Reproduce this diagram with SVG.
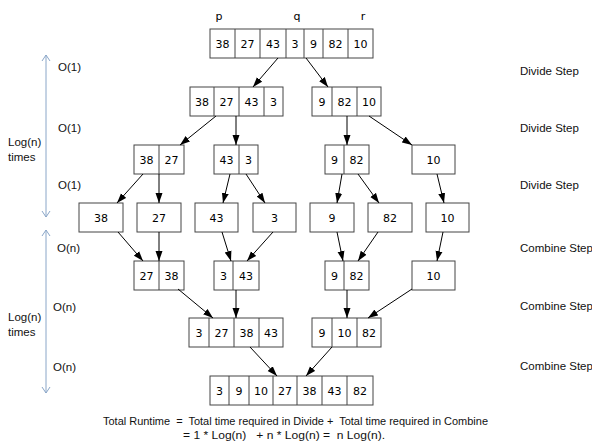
<svg xmlns="http://www.w3.org/2000/svg" width="592" height="447" viewBox="0 0 592 447">
<style>
.c{fill:#fff;stroke:#444;stroke-width:1}
.v{font-family:"DejaVu Sans",sans-serif;font-size:11px;fill:#000;text-anchor:middle}
.s{font-family:"Liberation Sans",Arial,sans-serif;font-size:11.5px;fill:#111;white-space:pre}
.e{stroke:#000;stroke-width:1;fill:none;marker-end:url(#ah)}
.b{stroke:#8aa6c8;stroke-width:1;fill:none}
</style>
<defs>
<marker id="ah" markerUnits="userSpaceOnUse" markerWidth="10" markerHeight="8" refX="10" refY="3.5" orient="auto" viewBox="0 0 10 7">
<path d="M0,0 L10,3.5 L0,7 z" fill="#000"/>
</marker>
</defs>
<rect width="592" height="447" fill="#fff"/>

<g id="labels-pqr">
<text class="v" x="219" y="20" font-size="10">p</text>
<text class="v" x="297" y="20" font-size="10">q</text>
<text class="v" x="363" y="20" font-size="10">r</text>
</g>

<g id="n1">
<rect class="c" x="210" y="29" width="163" height="29"/>
<path class="c" d="M235,29V58M260,29V58M286,29V58M304,29V58M323,29V58M348,29V58"/>
<text class="v" x="222.5" y="47.5">38</text><text class="v" x="247.5" y="47.5">27</text><text class="v" x="273" y="47.5">43</text><text class="v" x="295" y="47.5">3</text><text class="v" x="313.5" y="47.5">9</text><text class="v" x="335.5" y="47.5">82</text><text class="v" x="360.5" y="47.5">10</text>
</g>

<g id="n2a">
<rect class="c" x="190" y="87" width="93" height="29"/>
<path class="c" d="M214,87V116M239,87V116M264,87V116"/>
<text class="v" x="202" y="105.5">38</text><text class="v" x="226.5" y="105.5">27</text><text class="v" x="251.5" y="105.5">43</text><text class="v" x="273.5" y="105.5">3</text>
</g>
<g id="n2b">
<rect class="c" x="312" y="87" width="69" height="29"/>
<path class="c" d="M332,87V116M357,87V116"/>
<text class="v" x="322" y="105.5">9</text><text class="v" x="344.5" y="105.5">82</text><text class="v" x="369" y="105.5">10</text>
</g>

<g id="n3a">
<rect class="c" x="134" y="145" width="50" height="29"/>
<path class="c" d="M159,145V174"/>
<text class="v" x="146.5" y="163.5">38</text><text class="v" x="171.5" y="163.5">27</text>
</g>
<g id="n3b">
<rect class="c" x="214" y="145" width="44" height="29"/>
<path class="c" d="M239,145V174"/>
<text class="v" x="226.5" y="163.5">43</text><text class="v" x="248.5" y="163.5">3</text>
</g>
<g id="n3c">
<rect class="c" x="325" y="145" width="44" height="29"/>
<path class="c" d="M344,145V174"/>
<text class="v" x="334.5" y="163.5">9</text><text class="v" x="356.5" y="163.5">82</text>
</g>
<g id="n3d">
<rect class="c" x="412" y="145" width="43" height="29"/>
<text class="v" x="433.5" y="163.5">10</text>
</g>

<g id="n4a"><rect class="c" x="79" y="203" width="44" height="29"/><text class="v" x="101" y="221.5">38</text></g>
<g id="n4b"><rect class="c" x="137" y="203" width="44" height="29"/><text class="v" x="159" y="221.5">27</text></g>
<g id="n4c"><rect class="c" x="195" y="203" width="43" height="29"/><text class="v" x="216.5" y="221.5">43</text></g>
<g id="n4d"><rect class="c" x="253" y="203" width="43" height="29"/><text class="v" x="274.5" y="221.5">3</text></g>
<g id="n4e"><rect class="c" x="310" y="203" width="44" height="29"/><text class="v" x="332" y="221.5">9</text></g>
<g id="n4f"><rect class="c" x="368" y="203" width="44" height="29"/><text class="v" x="390" y="221.5">82</text></g>
<g id="n4g"><rect class="c" x="426" y="203" width="43" height="29"/><text class="v" x="447.5" y="221.5">10</text></g>

<g id="n5a">
<rect class="c" x="134" y="261" width="50" height="29"/>
<path class="c" d="M159,261V290"/>
<text class="v" x="146.5" y="279.5">27</text><text class="v" x="171.5" y="279.5">38</text>
</g>
<g id="n5b">
<rect class="c" x="214" y="261" width="45" height="29"/>
<path class="c" d="M233,261V290"/>
<text class="v" x="223.5" y="279.5">3</text><text class="v" x="246" y="279.5">43</text>
</g>
<g id="n5c">
<rect class="c" x="325" y="261" width="44" height="29"/>
<path class="c" d="M344,261V290"/>
<text class="v" x="334.5" y="279.5">9</text><text class="v" x="356.5" y="279.5">82</text>
</g>
<g id="n5d">
<rect class="c" x="412" y="261" width="43" height="29"/>
<text class="v" x="433.5" y="279.5">10</text>
</g>

<g id="n6a">
<rect class="c" x="189" y="318" width="94" height="29"/>
<path class="c" d="M209,318V347M234,318V347M259,318V347"/>
<text class="v" x="199" y="336.5">3</text><text class="v" x="221.5" y="336.5">27</text><text class="v" x="246.5" y="336.5">38</text><text class="v" x="271" y="336.5">43</text>
</g>
<g id="n6b">
<rect class="c" x="312" y="318" width="69" height="29"/>
<path class="c" d="M332,318V347M357,318V347"/>
<text class="v" x="322" y="336.5">9</text><text class="v" x="344.5" y="336.5">10</text><text class="v" x="369" y="336.5">82</text>
</g>

<g id="n7">
<rect class="c" x="210" y="376" width="163" height="29"/>
<path class="c" d="M229,376V405M249,376V405M273,376V405M297,376V405M322,376V405M347,376V405"/>
<text class="v" x="219.5" y="394.5">3</text><text class="v" x="239" y="394.5">9</text><text class="v" x="261" y="394.5">10</text><text class="v" x="285" y="394.5">27</text><text class="v" x="309.5" y="394.5">38</text><text class="v" x="334.5" y="394.5">43</text><text class="v" x="360" y="394.5">82</text>
</g>

<g id="connectors">
<path class="e" d="M278,58L253,87"/>
<path class="e" d="M306,58L328,87"/>
<path class="e" d="M216,116L180,145"/>
<path class="e" d="M236,116L236,145"/>
<path class="e" d="M347,116L347,145"/>
<path class="e" d="M369,116L412,145"/>
<path class="e" d="M143,174L117,203"/>
<path class="e" d="M159,174L159,203"/>
<path class="e" d="M230,174L223,203"/>
<path class="e" d="M246,174L265,203"/>
<path class="e" d="M342,174L337,203"/>
<path class="e" d="M358,174L379,203"/>
<path class="e" d="M437,174L444,203"/>
<path class="e" d="M118,232L143,261"/>
<path class="e" d="M159,232L159,261"/>
<path class="e" d="M222,232L231,261"/>
<path class="e" d="M273,232L247,261"/>
<path class="e" d="M337,232L343,261"/>
<path class="e" d="M378,232L358,261"/>
<path class="e" d="M443,232L437,261"/>
<path class="e" d="M178,289L213,318"/>
<path class="e" d="M236,290L236,318"/>
<path class="e" d="M347,290L347,318"/>
<path class="e" d="M412,289L368,318"/>
<path class="e" d="M250,347L277,376"/>
<path class="e" d="M332,347L306,376"/>
</g>

<g id="left-axis">
<path class="b" d="M46,55V217M42,61L46,55L50,61M42,211L46,217L50,211"/>
<path class="b" d="M46,230V393M42,236L46,230L50,236M42,387L46,393L50,387"/>
<text class="s" x="58" y="71">O(1)</text>
<text class="s" x="58" y="132">O(1)</text>
<text class="s" x="58" y="189">O(1)</text>
<text class="s" x="8" y="146">Log(n)</text>
<text class="s" x="8" y="161">times</text>
<text class="s" x="57" y="252">O(n)</text>
<text class="s" x="53" y="311">O(n)</text>
<text class="s" x="53" y="371">O(n)</text>
<text class="s" x="8" y="321">Log(n)</text>
<text class="s" x="8" y="336">times</text>
</g>

<g id="right-labels">
<text class="s" x="520" y="75">Divide Step</text>
<text class="s" x="520" y="132">Divide Step</text>
<text class="s" x="520" y="189">Divide Step</text>
<text class="s" x="520" y="252">Combine Step</text>
<text class="s" x="520" y="310">Combine Step</text>
<text class="s" x="520" y="370">Combine Step</text>
</g>

<g id="runtime">
<text class="s" x="103" y="425" textLength="385" lengthAdjust="spacingAndGlyphs">Total Runtime  =  Total time required in Divide +  Total time required in Combine</text>
<text class="s" x="183" y="439" textLength="202" lengthAdjust="spacingAndGlyphs">= 1 * Log(n)   + n * Log(n) =  n Log(n).</text>
</g>
</svg>
